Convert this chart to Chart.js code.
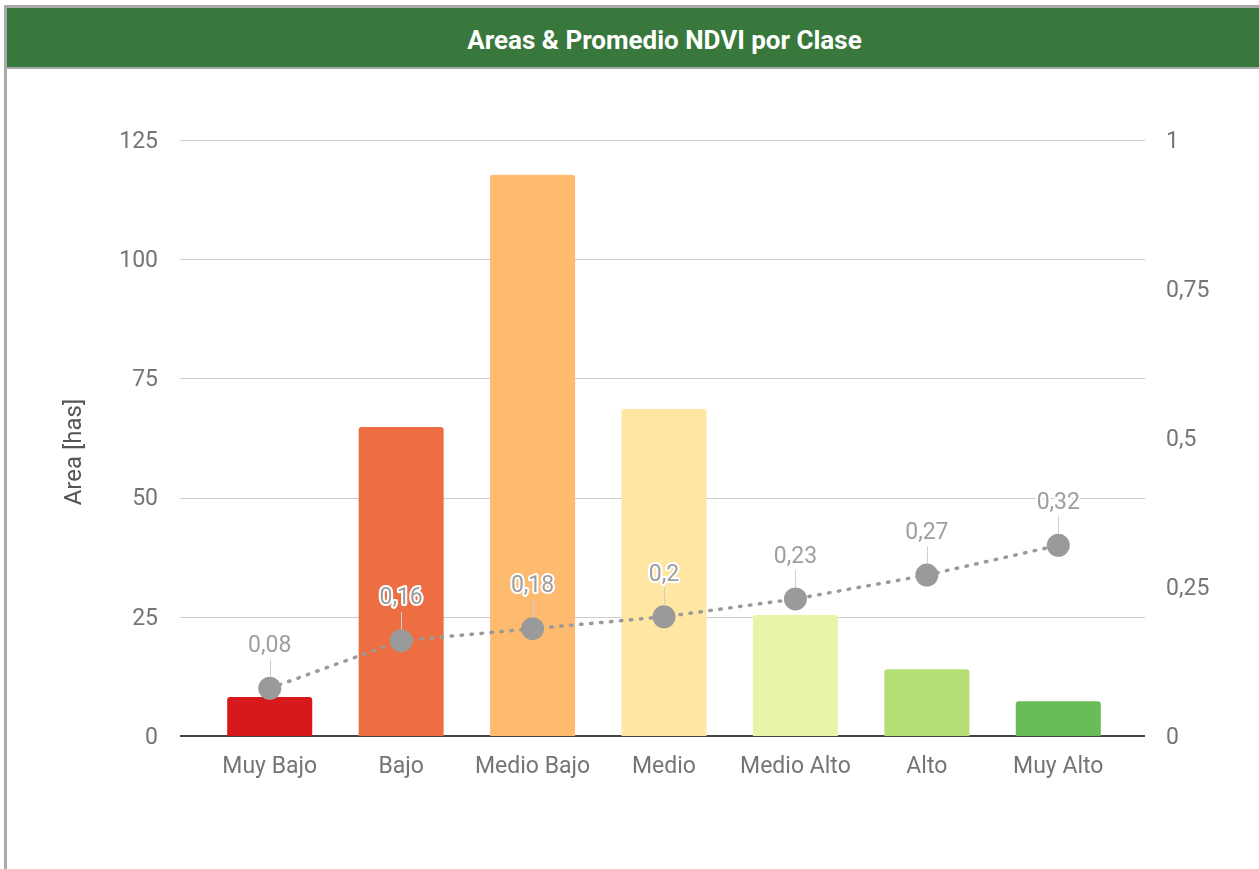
<!DOCTYPE html>
<html>
<head>
<meta charset="utf-8">
<script src="https://cdn.jsdelivr.net/npm/chart.js@4.4.0/dist/chart.umd.min.js"></script>
<style>
  html, body { margin: 0; padding: 0; width: 1259px; height: 869px; overflow: hidden; background: #fff; font-family: Roboto, sans-serif; }
  #frame { position: absolute; left: 4px; top: 5px; width: 1400px; height: 900px; border-top: 3px solid #a9a9a9; border-left: 3px solid #a9a9a9; z-index: 2; pointer-events: none; }
  #title { position: absolute; left: 7px; top: 8px; width: 1315px; height: 59px; background: #39783c; border-bottom: 2px solid #a9a9a9; color: #fff; font: bold 26px Roboto, sans-serif; text-align: center; line-height: 64px; z-index: 3; }
  #wrap { position: absolute; left: 0; top: 0; width: 1259px; height: 869px; z-index: 1; }
</style>
</head>
<body>
<div id="frame"></div>
<div id="title">Areas &amp; Promedio NDVI por Clase</div>
<div id="wrap"><canvas id="c" width="1259" height="869"></canvas></div>
<script>
const categories = ['Muy Bajo', 'Bajo', 'Medio Bajo', 'Medio', 'Medio Alto', 'Alto', 'Muy Alto'];
const areaValues = [8.2, 64.8, 117.7, 68.6, 25.4, 14.0, 7.3];
const ndviValues = [0.08, 0.16, 0.18, 0.2, 0.23, 0.27, 0.32];
const barColors = ['#d7191c', '#ed6e43', '#feba6e', '#ffe6a3', '#e6f5a7', '#b3df75', '#69bd58'];
const leftTicks = ['0', '25', '50', '75', '100', '125'];
const rightTicks = ['0', '0,25', '0,5', '0,75', '1'];
const axisTitle = 'Area [has]';

const FONT = 'Roboto, sans-serif';
const TICK_COLOR = '#757575';

const gridPlugin = {
  id: 'extGrid',
  beforeDatasetsDraw(chart) {
    const ctx = chart.ctx;
    const y = chart.scales.y;
    ctx.save();
    y.ticks.forEach(t => {
      const py = Math.round(y.getPixelForValue(t.value));
      if (t.value === 0) {
        ctx.strokeStyle = '#444';
        ctx.lineWidth = 2;
        ctx.beginPath(); ctx.moveTo(180, py); ctx.lineTo(1145, py); ctx.stroke();
      } else {
        ctx.strokeStyle = '#cccccc';
        ctx.lineWidth = 1;
        ctx.beginPath(); ctx.moveTo(180, py + 0.5); ctx.lineTo(1145, py + 0.5); ctx.stroke();
      }
    });
    // axis title
    const ca = chart.chartArea;
    ctx.translate(75, (ca.top + ca.bottom) / 2 + 14);
    ctx.rotate(-Math.PI / 2);
    ctx.font = '24px ' + FONT;
    ctx.fillStyle = '#555';
    ctx.textAlign = 'center';
    ctx.textBaseline = 'middle';
    ctx.fillText(axisTitle, 0, 0);
    ctx.restore();
  }
};

const labelPlugin = {
  id: 'pointLabels',
  afterDatasetsDraw(chart) {
    const ctx = chart.ctx;
    const meta = chart.getDatasetMeta(1);
    ctx.save();
    ctx.font = '23px ' + FONT;
    ctx.textAlign = 'center';
    ctx.textBaseline = 'middle';
    meta.data.forEach((pt, i) => {
      const txt = String(ndviValues[i]).replace('.', ',');
      const cy = pt.y - 42;
      ctx.strokeStyle = '#cfcfcf';
      ctx.lineWidth = 1;
      ctx.beginPath();
      ctx.moveTo(Math.round(pt.x) + 0.5, pt.y - 11);
      ctx.lineTo(Math.round(pt.x) + 0.5, cy + 13);
      ctx.stroke();
      ctx.lineJoin = 'round';
      ctx.strokeStyle = '#ffffff';
      ctx.lineWidth = 4;
      ctx.strokeText(txt, pt.x, cy);
      ctx.fillStyle = '#9e9e9e';
      ctx.fillText(txt, pt.x, cy);
    });
    ctx.restore();
  }
};

new Chart(document.getElementById('c'), {
  data: {
    labels: categories,
    datasets: [
      {
        type: 'bar',
        label: 'Area',
        data: areaValues,
        backgroundColor: barColors,
        yAxisID: 'y',
        categoryPercentage: 1,
        barPercentage: 0.647,
        borderRadius: { topLeft: 3, topRight: 3 },
        borderSkipped: 'bottom',
        order: 2
      },
      {
        type: 'line',
        label: 'NDVI',
        data: ndviValues,
        yAxisID: 'y1',
        borderColor: '#9a9a9a',
        borderWidth: 3.5,
        borderDash: [1.5, 8.5],
        borderCapStyle: 'round',
        pointRadius: 11.5,
        pointBackgroundColor: '#9a9a9a',
        pointBorderColor: '#9a9a9a',
        pointBorderWidth: 0,
        tension: 0,
        order: 1
      }
    ]
  },
  options: {
    responsive: false,
    animation: false,
    devicePixelRatio: 1,
    layout: { padding: { top: 140, left: 0, right: 0, bottom: 0 } },
    plugins: { legend: { display: false }, tooltip: { enabled: false }, title: { display: false } },
    scales: {
      x: {
        offset: true,
        grid: { display: false },
        border: { display: false },
        ticks: { color: TICK_COLOR, font: { family: FONT, size: 23 }, padding: 9, maxRotation: 0, autoSkip: false },
        afterFit(s) { s.height = 133; }
      },
      y: {
        position: 'left',
        min: 0, max: 125,
        grid: { display: false },
        border: { display: false },
        ticks: { stepSize: 25, color: TICK_COLOR, font: { family: FONT, size: 23 }, padding: 38, labelOffset: 2,
                 callback: (v, i) => leftTicks[i] },
        afterFit(s) { s.width = 204; }
      },
      y1: {
        position: 'right',
        min: 0, max: 1,
        grid: { display: false },
        border: { display: false },
        ticks: { stepSize: 0.25, color: TICK_COLOR, font: { family: FONT, size: 23 }, padding: 34, labelOffset: 2.5,
                 callback: (v, i) => rightTicks[i] },
        afterFit(s) { s.width = 135; }
      }
    }
  },
  plugins: [gridPlugin, labelPlugin]
});
</script>
</body>
</html>
